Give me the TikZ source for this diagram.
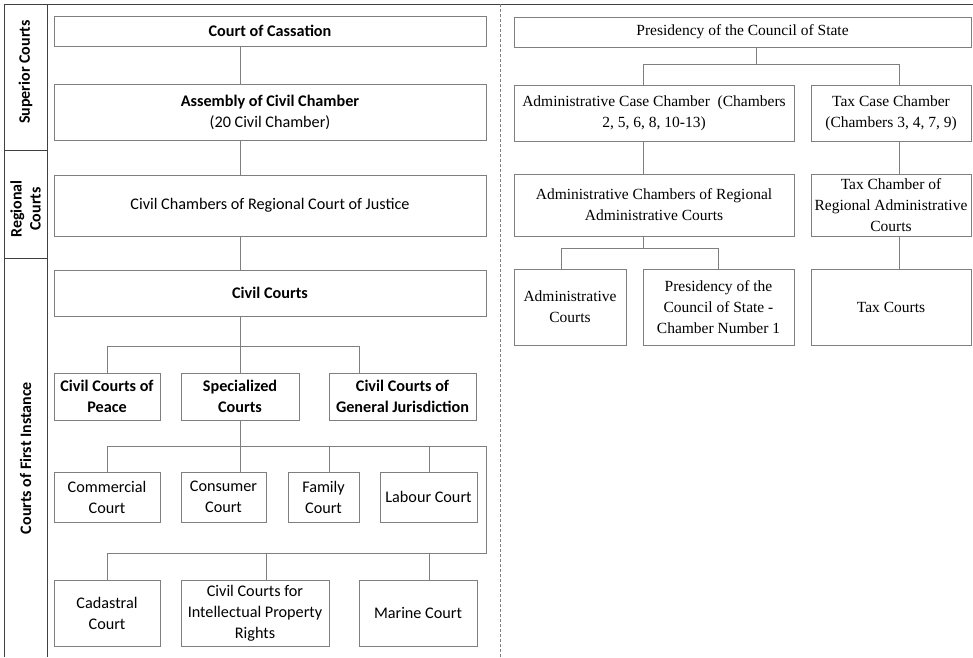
\documentclass[tikz,border=0pt]{standalone}
\usepackage{fontspec}
\setmainfont{Liberation Serif}
\newfontfamily\calfont{Carlito}
\usetikzlibrary{positioning}

\definecolor{boxline}{HTML}{7F7F7F}
\definecolor{frameline}{HTML}{404040}

\begin{document}
\begin{tikzpicture}[x=1pt, y=-1pt,
        cbox/.style 2 args={draw=boxline, line width=0.8pt, minimum width=#1pt, minimum height=#2pt,
            inner sep=0pt, align=center, font=\calfont\fontsize{16.2}{21}\selectfont},
        tbox/.style 2 args={cbox={#1}{#2}, font=\fontsize{15.5}{21}\selectfont},
        link/.style={draw=boxline, line width=0.8pt},
        sepline/.style={draw=frameline, line width=0.9pt},
        side/.style={rotate=90, align=center, font=\calfont\bfseries\fontsize{16}{19}\selectfont}]
    \useasboundingbox (0,0) rectangle (973,657);

    % frame and level labels
    \draw[sepline] (4,657) -- (4,4) -- (973,4);
    \draw[sepline] (47,4) -- (47,657);
    \draw[sepline] (4,150) -- (47,150) (4,258) -- (47,258);
    \draw[draw=boxline, line width=0.8pt, dash pattern=on 3pt off 2pt] (500,4) -- (500,657);
    \node[side] (supl) at (25.5,72) {Superior Courts};
    \node[side] (regl) at (25.5,209) {Regional\\Courts};
    \node[side] (firstl) at (25.5,458) {Courts of First Instance};

    % civil judiciary
    \node[cbox={432}{30}] (cass) at (270,31) {\textbf{Court of Cassation}};
    \node[cbox={432}{56}] (assem) at (270,112) {\textbf{Assembly of Civil Chamber}\\(20 Civil Chamber)};
    \node[cbox={432}{61}] (regc) at (270,205.5) {Civil Chambers of Regional Court of Justice};
    \node[cbox={432}{46}] (civil) at (270,293) {\textbf{Civil Courts}};
    \node[cbox={106}{47}] (peace) at (107,396.5) {\textbf{Civil Courts of}\\\textbf{Peace}};
    \node[cbox={118}{47}] (spec) at (240,396.5) {\textbf{Specialized}\\\textbf{Courts}};
    \node[cbox={147}{47}] (genj) at (402.5,396.5) {\textbf{Civil Courts of}\\\textbf{General Jurisdiction}};
    \node[cbox={106}{50}] (comm) at (107,497) {Commercial\\Court};
    \node[cbox={85}{50}] (cons) at (223.5,497) {Consumer\\Court};
    \node[cbox={71}{50}] (fam) at (323.5,497) {Family\\Court};
    \node[cbox={97}{50}] (lab) at (428.5,497) {Labour Court};
    \node[cbox={106}{66}] (cad) at (107,613) {Cadastral\\Court};
    \node[cbox={148}{66}] (ip) at (255,613) {Civil Courts for\\Intellectual Property\\Rights};
    \node[cbox={118}{66}] (mar) at (418,613) {Marine Court};

    \coordinate (lx) at (240,0);
    \draw[link] (lx |- cass.south) -- (lx |- assem.north);
    \draw[link] (lx |- assem.south) -- (lx |- regc.north);
    \draw[link] (lx |- regc.south) -- (lx |- civil.north);
    \draw[link] (lx |- civil.south) -- (spec.north);
    \coordinate (dgen) at (359,346);
    \draw[link] (peace.north) |- (dgen) -- (dgen |- genj.north);
    \coordinate (busA) at (486,446);
    \coordinate (busB) at (486,553);
    \draw[link] (spec.south) -- (spec.south |- cons.north);
    \draw[link] (comm.north) |- (busA) -- (busB) -| (cad.north);
    \coordinate (dfam) at (329,446);
    \coordinate (dlab) at (429,446);
    \coordinate (dip) at (266,553);
    \coordinate (dmar) at (429,553);
    \foreach \d/\n in {dfam/fam, dlab/lab, dip/ip, dmar/mar}
        \draw[link] (\d) -- (\d |- \n.north);

    % administrative judiciary
    \node[tbox={457}{30}] (pres) at (742.5,32) {Presidency of the Council of State};
    \node[tbox={280}{56}] (acase) at (654,113) {Administrative Case Chamber~~(Chambers\\2, 5, 6, 8, 10-13)};
    \node[tbox={160}{56}] (tcase) at (891,113) {Tax Case Chamber\\(Chambers 3, 4, 7, 9)};
    \node[tbox={280}{62}] (areg) at (654,205) {Administrative Chambers of Regional\\Administrative Courts};
    \node[tbox={160}{62}] (treg) at (891,205) {Tax Chamber of\\Regional Administrative\\Courts};
    \node[tbox={112}{76}] (acourt) at (570,307) {Administrative\\Courts};
    \node[tbox={151}{76}] (pone) at (718.5,307) {Presidency of the\\Council of State -\\Chamber Number 1};
    \node[tbox={160}{76}] (tcourt) at (891,307) {Tax Courts};

    \coordinate (rtop) at (756,64);
    \coordinate (ra) at (643,64);
    \coordinate (rb) at (899,64);
    \draw[link] (rtop |- pres.south) -- (rtop);
    \draw[link] (ra |- acase.north) |- (rb) -- (rb |- tcase.north);
    \draw[link] (ra |- acase.south) -- (ra |- areg.north);
    \draw[link] (rb |- tcase.south) -- (rb |- treg.north);
    \draw[link] (rb |- treg.south) -- (rb |- tcourt.north);
    \coordinate (rc) at (561,248);
    \coordinate (rd) at (718,248);
    \draw[link] (ra |- areg.south) -- (ra |- rc);
    \draw[link] (rc |- acourt.north) |- (rd) -- (rd |- pone.north);
\end{tikzpicture}
\end{document}
